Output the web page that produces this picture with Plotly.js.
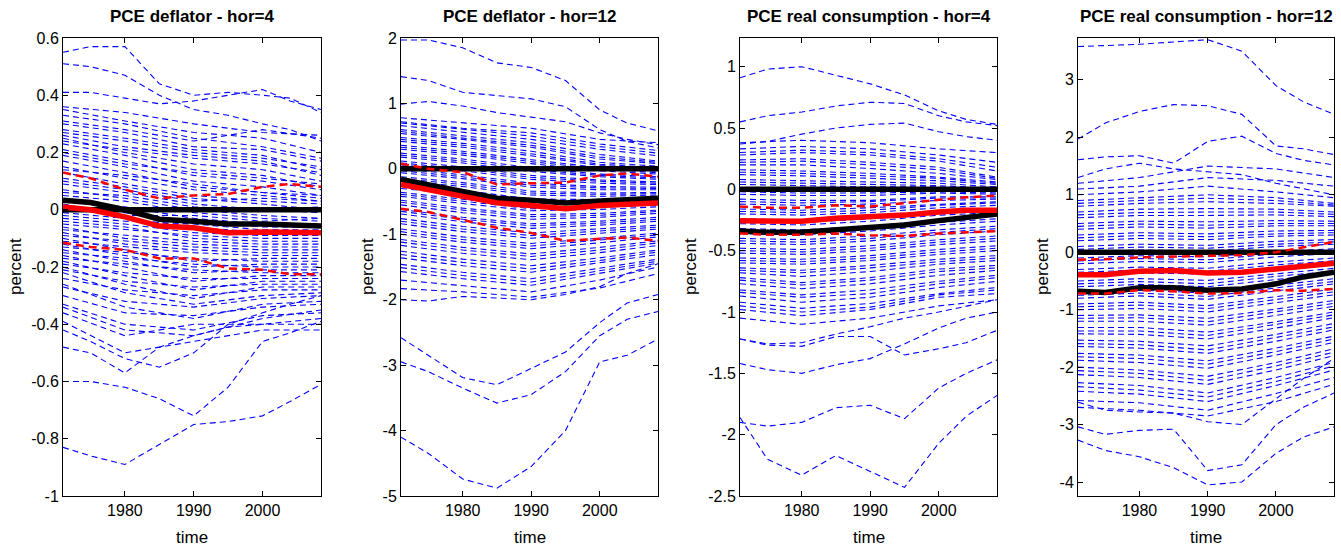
<!DOCTYPE html>
<html><head><meta charset="utf-8">
<script src="https://cdn.plot.ly/plotly-3.0.1.min.js"></script>
<style>html,body{margin:0;padding:0;background:#fff}#chart{width:1341px;height:548px}</style>
</head><body><div id="chart"></div>
<script>
// ---------- x grids (years) ----------
const YEARS_A = [1971, 1980, 1990, 2000, 2008.5];
const YEARS_B = [1971, 1975, 1980, 1985, 1990, 1995, 2000, 2004, 2008.5];
const X_TICKS = [1980, 1990, 2000];
const X_TICK_TEXT = ["1980", "1990", "2000"];

// ---------- Panel 1: PCE deflator - hor=4 ----------
const p1Title = "PCE deflator - hor=4";
const p1Band = [
 [0.36,0.34,0.30,0.27,0.26],[0.35,0.31,0.27,0.25,0.20],[0.33,0.30,0.25,0.22,0.18],[0.31,0.28,0.24,0.28,0.25],
 [0.30,0.27,0.22,0.21,0.17],[0.28,0.25,0.21,0.19,0.14],[0.26,0.22,0.19,0.17,0.12],[0.25,0.20,0.16,0.14,0.10],
 [0.23,0.19,0.14,0.12,0.08],[0.21,0.17,0.12,0.10,0.07],[0.19,0.15,0.10,0.08,0.05],[0.17,0.13,0.08,0.06,0.04],
 [0.15,0.11,0.07,0.05,0.03],[0.13,0.09,0.05,0.03,0.02],[0.11,0.08,0.04,0.02,0.00],[0.09,0.06,0.02,0.00,-0.01],
 [0.07,0.04,0.00,-0.02,-0.03],[0.05,0.03,-0.01,-0.03,-0.04],[0.03,0.01,-0.03,-0.05,-0.05],[0.01,-0.01,-0.04,-0.06,-0.06],
 [-0.01,-0.03,-0.06,-0.08,-0.08],[-0.03,-0.05,-0.08,-0.09,-0.09],[-0.05,-0.07,-0.09,-0.10,-0.10],[-0.07,-0.09,-0.11,-0.12,-0.12],
 [-0.09,-0.11,-0.13,-0.14,-0.14],[-0.11,-0.13,-0.15,-0.16,-0.16],[-0.13,-0.15,-0.17,-0.18,-0.18],[-0.15,-0.17,-0.19,-0.20,-0.20],
 [-0.17,-0.19,-0.21,-0.22,-0.22],[-0.19,-0.22,-0.24,-0.24,-0.24],[-0.21,-0.25,-0.27,-0.26,-0.26],[-0.24,-0.28,-0.30,-0.28,-0.28],
 [-0.27,-0.32,-0.34,-0.31,-0.30],[-0.30,-0.36,-0.37,-0.34,-0.33],[-0.33,-0.40,-0.42,-0.37,-0.36],[-0.36,-0.44,-0.40,-0.40,-0.40],
 [-0.39,-0.50,-0.46,-0.42,-0.42]
];
const p1Band2 = [
 [0.14,0.12,0.09,0.06,0.05],[0.10,0.07,0.03,0.04,0.03],[0.06,0.05,0.01,0.00,0.01],[0.02,-0.02,-0.02,-0.04,-0.03],
 [-0.02,-0.04,-0.05,-0.07,-0.07],[-0.04,-0.06,-0.10,-0.11,-0.11],[-0.06,-0.10,-0.12,-0.13,-0.13],[-0.08,-0.12,-0.14,-0.15,-0.15],
 [-0.10,-0.14,-0.18,-0.17,-0.17],[-0.12,-0.16,-0.20,-0.19,-0.19],[-0.14,-0.18,-0.22,-0.21,-0.21],[-0.16,-0.20,-0.25,-0.23,-0.23],
 [-0.18,-0.23,-0.28,-0.25,-0.25],[-0.20,-0.26,-0.31,-0.27,-0.27],[-0.22,-0.29,-0.33,-0.30,-0.29],[0.20,0.16,0.13,0.11,0.09],
 [0.24,0.21,0.18,0.16,0.13],[0.27,0.24,0.20,0.18,0.15],[-0.26,-0.34,-0.38,-0.33,-0.32],[-0.34,-0.42,-0.44,-0.38,-0.35]
];
const p1Outer = [
 [0.55,0.57,0.57,0.44,0.40,0.41,0.40,0.39,0.34],
 [0.51,0.50,0.47,0.40,0.35,0.33,0.30,0.28,0.24],
 [0.41,0.41,0.39,0.37,0.38,0.40,0.42,0.38,0.35],
 [-0.48,-0.50,-0.57,-0.48,-0.44,-0.41,-0.40,-0.39,-0.38],
 [-0.60,-0.60,-0.62,-0.66,-0.72,-0.62,-0.46,-0.43,-0.39],
 [-0.83,-0.86,-0.89,-0.82,-0.75,-0.74,-0.72,-0.67,-0.61],
 [-0.42,-0.46,-0.52,-0.55,-0.50,-0.40,-0.36,-0.33,-0.30]
];
const p1Est = [0.033,0.025,0.0,-0.033,-0.04,-0.05,-0.05,-0.052,-0.057];
const p1Med = [0.01,0.0,-0.025,-0.057,-0.063,-0.08,-0.078,-0.08,-0.08];
const p1Up  = [0.13,0.11,0.07,0.04,0.05,0.055,0.08,0.09,0.08];
const p1Lo  = [-0.115,-0.13,-0.14,-0.17,-0.17,-0.205,-0.21,-0.225,-0.225];
const p1YTicks = [-1,-0.8,-0.6,-0.4,-0.2,0,0.2,0.4,0.6];
const p1YText = ["-1","-0.8","-0.6","-0.4","-0.2","0","0.2","0.4","0.6"];

// ---------- Panel 2: PCE deflator - hor=12 ----------
const p2Title = "PCE deflator - hor=12";
const p2Band = [
 [0.78,0.70,0.62,0.45,0.40],[0.72,0.62,0.55,0.38,0.28],[0.66,0.56,0.45,0.30,0.20],[0.60,0.50,0.40,0.22,0.12],
 [0.54,0.45,0.33,0.15,0.08],[0.48,0.39,0.27,0.10,0.04],[0.42,0.33,0.20,0.05,0.00],[0.36,0.27,0.14,0.02,-0.04],
 [0.30,0.21,0.08,-0.03,-0.08],[0.24,0.15,0.02,-0.08,-0.12],[0.18,0.09,-0.04,-0.12,-0.16],[0.12,0.03,-0.10,-0.17,-0.20],
 [0.06,-0.03,-0.16,-0.22,-0.24],[0.00,-0.09,-0.22,-0.27,-0.28],[-0.06,-0.15,-0.28,-0.32,-0.32],[-0.12,-0.21,-0.34,-0.37,-0.36],
 [-0.18,-0.27,-0.40,-0.42,-0.40],[-0.24,-0.33,-0.46,-0.47,-0.44],[-0.30,-0.39,-0.52,-0.52,-0.48],[-0.36,-0.46,-0.58,-0.57,-0.53],
 [-0.42,-0.53,-0.64,-0.62,-0.58],[-0.48,-0.60,-0.70,-0.68,-0.63],[-0.55,-0.67,-0.77,-0.74,-0.68],[-0.62,-0.74,-0.84,-0.80,-0.74],
 [-0.69,-0.81,-0.91,-0.86,-0.80],[-0.76,-0.88,-0.98,-0.92,-0.86],[-0.84,-0.96,-1.06,-0.99,-0.92],[-0.92,-1.04,-1.14,-1.06,-0.98],
 [-1.00,-1.12,-1.22,-1.13,-1.04],[-1.08,-1.20,-1.30,-1.20,-1.10],[-1.17,-1.29,-1.39,-1.28,-1.17],[-1.26,-1.38,-1.48,-1.36,-1.24],
 [-1.36,-1.48,-1.58,-1.44,-1.31],[-1.46,-1.58,-1.68,-1.52,-1.38],[-1.57,-1.68,-1.78,-1.60,-1.44],[-1.70,-1.78,-1.88,-1.70,-1.50],
 [-1.83,-1.88,-1.96,-1.82,-1.60]
];
const p2Band2 = [
 [0.70,0.60,0.50,0.34,0.24],[0.57,0.47,0.36,0.18,0.10],[0.45,0.36,0.23,0.07,0.02],[0.33,0.24,0.11,0.00,-0.06],
 [0.21,0.12,-0.01,-0.10,-0.14],[0.09,0.00,-0.13,-0.19,-0.22],[-0.03,-0.12,-0.25,-0.29,-0.30],[-0.15,-0.24,-0.37,-0.39,-0.38],
 [-0.27,-0.36,-0.49,-0.49,-0.46],[-0.39,-0.49,-0.61,-0.59,-0.55],[-0.51,-0.63,-0.73,-0.71,-0.65],[-0.65,-0.77,-0.87,-0.83,-0.77],
 [-0.80,-0.92,-1.02,-0.95,-0.89],[-0.96,-1.08,-1.18,-1.09,-1.01],[-1.12,-1.24,-1.34,-1.24,-1.13],[-1.31,-1.43,-1.53,-1.40,-1.27],
 [-1.51,-1.63,-1.73,-1.56,-1.41]
];
const p2Outer = [
 [1.97,1.97,1.85,1.62,1.55,1.35,0.90,0.70,0.58],
 [1.41,1.35,1.17,1.12,1.07,0.95,0.60,0.42,0.32],
 [0.99,1.03,0.96,0.86,0.79,0.72,0.55,0.45,0.37],
 [-4.10,-4.35,-4.74,-4.88,-4.55,-4.00,-2.95,-2.85,-2.60],
 [-2.58,-2.85,-3.19,-3.30,-3.05,-2.80,-2.35,-2.05,-1.92],
 [-2.95,-3.10,-3.35,-3.58,-3.45,-3.10,-2.55,-2.30,-2.18],
 [-2.00,-2.02,-1.95,-1.98,-2.00,-1.92,-1.80,-1.60,-1.45]
];
const p2Est = [-0.16,-0.24,-0.35,-0.45,-0.48,-0.52,-0.49,-0.47,-0.45];
const p2Med = [-0.24,-0.32,-0.40,-0.52,-0.56,-0.61,-0.56,-0.54,-0.52];
const p2Up  = [0.08,0.0,-0.05,-0.24,-0.22,-0.21,-0.10,-0.07,-0.12];
const p2Lo  = [-0.61,-0.66,-0.78,-0.90,-0.98,-1.10,-1.07,-1.05,-1.10];
const p2YTicks = [-5,-4,-3,-2,-1,0,1,2];
const p2YText = ["-5","-4","-3","-2","-1","0","1","2"];

// ---------- Panel 3: PCE real consumption - hor=4 ----------
const p3Title = "PCE real consumption - hor=4";
const p3Band = [
 [0.38,0.40,0.38,0.33,0.30],[0.33,0.35,0.33,0.28,0.22],[0.28,0.30,0.28,0.23,0.15],[0.24,0.25,0.22,0.18,0.10],
 [0.20,0.20,0.17,0.13,0.08],[0.16,0.15,0.13,0.10,0.06],[0.12,0.11,0.09,0.07,0.04],[0.08,0.07,0.06,0.05,0.02],
 [0.04,0.03,0.02,0.02,0.00],[0.00,-0.01,-0.02,-0.01,-0.02],[-0.04,-0.05,-0.05,-0.03,-0.04],[-0.08,-0.09,-0.09,-0.06,-0.06],
 [-0.12,-0.13,-0.12,-0.09,-0.08],[-0.16,-0.17,-0.15,-0.12,-0.10],[-0.20,-0.21,-0.19,-0.15,-0.13],[-0.24,-0.25,-0.22,-0.18,-0.16],
 [-0.28,-0.29,-0.26,-0.21,-0.19],[-0.32,-0.33,-0.30,-0.25,-0.22],[-0.36,-0.37,-0.34,-0.29,-0.26],[-0.40,-0.41,-0.38,-0.33,-0.30],
 [-0.44,-0.45,-0.42,-0.37,-0.34],[-0.48,-0.49,-0.46,-0.41,-0.38],[-0.52,-0.53,-0.50,-0.45,-0.42],[-0.56,-0.57,-0.54,-0.49,-0.46],
 [-0.60,-0.61,-0.58,-0.53,-0.50],[-0.64,-0.66,-0.62,-0.57,-0.54],[-0.68,-0.71,-0.67,-0.61,-0.58],[-0.72,-0.76,-0.72,-0.65,-0.62],
 [-0.77,-0.81,-0.77,-0.70,-0.66],[-0.82,-0.86,-0.82,-0.75,-0.70],[-0.87,-0.92,-0.88,-0.80,-0.75],[-0.92,-0.97,-0.93,-0.85,-0.80],
 [-0.98,-1.03,-0.98,-0.88,-0.85],[-1.05,-1.10,-1.05,-0.95,-0.90]
];
const p3Band2 = [
 [0.22,0.23,0.20,0.16,0.09],[0.14,0.13,0.11,0.09,0.05],[0.06,0.05,0.04,0.03,0.01],[-0.02,-0.03,-0.03,-0.02,-0.03],
 [-0.10,-0.11,-0.10,-0.07,-0.07],[-0.18,-0.19,-0.17,-0.13,-0.11],[-0.26,-0.27,-0.24,-0.19,-0.17],[-0.34,-0.35,-0.32,-0.27,-0.24],
 [-0.42,-0.43,-0.40,-0.35,-0.32],[-0.50,-0.51,-0.48,-0.43,-0.40],[-0.58,-0.59,-0.56,-0.51,-0.48],[-0.66,-0.68,-0.64,-0.59,-0.56],
 [-0.74,-0.78,-0.74,-0.67,-0.64],[-0.84,-0.88,-0.85,-0.77,-0.72],[-0.95,-1.00,-0.96,-0.86,-0.82],[0.30,0.32,0.30,0.25,0.18]
];
const p3Outer = [
 [0.91,0.98,1.00,0.93,0.86,0.77,0.64,0.57,0.53],
 [0.55,0.60,0.63,0.68,0.71,0.70,0.60,0.55,0.52],
 [0.37,0.39,0.45,0.50,0.53,0.54,0.47,0.43,0.40],
 [-1.86,-2.20,-2.33,-2.17,-2.30,-2.43,-2.07,-1.85,-1.68],
 [-1.90,-1.93,-1.90,-1.78,-1.76,-1.87,-1.62,-1.50,-1.39],
 [-1.42,-1.47,-1.50,-1.43,-1.38,-1.26,-1.13,-1.05,-1.00],
 [-1.22,-1.26,-1.25,-1.18,-1.12,-1.05,-1.00,-0.95,-0.90],
 [-1.22,-1.27,-1.28,-1.20,-1.20,-1.35,-1.30,-1.25,-1.15]
];
const p3Est = [-0.34,-0.35,-0.35,-0.33,-0.31,-0.29,-0.255,-0.23,-0.20];
const p3Med = [-0.256,-0.26,-0.26,-0.235,-0.227,-0.21,-0.185,-0.17,-0.17];
const p3Up  = [-0.14,-0.15,-0.15,-0.13,-0.14,-0.11,-0.085,-0.065,-0.05];
const p3Lo  = [-0.36,-0.37,-0.37,-0.36,-0.375,-0.38,-0.36,-0.35,-0.34];
const p3YTicks = [-2.5,-2,-1.5,-1,-0.5,0,0.5,1];
const p3YText = ["-2.5","-2","-1.5","-1","-0.5","0","0.5","1"];

// ---------- Panel 4: PCE real consumption - hor=12 ----------
const p4Title = "PCE real consumption - hor=12";
const p4Band = [
 [1.20,1.30,1.50,1.45,1.30],[1.10,1.15,1.30,1.25,1.15],[1.00,1.05,1.15,1.05,0.95],[0.90,0.95,1.00,0.95,0.85],
 [0.80,0.85,0.88,0.85,0.80],[0.70,0.75,0.76,0.75,0.70],[0.60,0.64,0.64,0.65,0.62],[0.50,0.54,0.53,0.55,0.54],
 [0.40,0.44,0.42,0.46,0.46],[0.30,0.34,0.32,0.37,0.38],[0.20,0.24,0.22,0.28,0.30],[0.10,0.14,0.12,0.19,0.22],
 [0.00,0.04,0.02,0.10,0.14],[-0.10,-0.06,-0.08,0.01,0.06],[-0.20,-0.16,-0.18,-0.08,-0.02],[-0.30,-0.26,-0.28,-0.17,-0.10],
 [-0.40,-0.36,-0.38,-0.27,-0.19],[-0.50,-0.46,-0.49,-0.37,-0.28],[-0.60,-0.56,-0.60,-0.47,-0.37],[-0.70,-0.66,-0.71,-0.57,-0.46],
 [-0.80,-0.76,-0.82,-0.67,-0.55],[-0.90,-0.87,-0.93,-0.77,-0.64],[-1.00,-0.98,-1.04,-0.88,-0.74],[-1.10,-1.09,-1.15,-0.99,-0.84],
 [-1.20,-1.20,-1.27,-1.10,-0.94],[-1.31,-1.31,-1.39,-1.21,-1.04],[-1.42,-1.43,-1.51,-1.32,-1.14],[-1.53,-1.55,-1.63,-1.43,-1.24],
 [-1.64,-1.67,-1.76,-1.55,-1.35],[-1.76,-1.79,-1.89,-1.67,-1.46],[-1.88,-1.92,-2.02,-1.79,-1.57],[-2.00,-2.05,-2.16,-1.92,-1.68],
 [-2.13,-2.18,-2.30,-2.05,-1.80],[-2.27,-2.32,-2.45,-2.18,-1.92],[-2.42,-2.47,-2.60,-2.32,-2.05],[-2.58,-2.62,-2.75,-2.46,-2.18]
];
const p4Band2 = [
 [0.85,0.90,0.94,0.90,0.82],[0.65,0.69,0.70,0.70,0.66],[0.45,0.49,0.47,0.50,0.50],[0.25,0.29,0.27,0.32,0.34],
 [0.05,0.09,0.07,0.14,0.18],[-0.15,-0.11,-0.13,-0.03,0.02],[-0.35,-0.31,-0.33,-0.22,-0.15],[-0.55,-0.51,-0.55,-0.42,-0.33],
 [-0.75,-0.71,-0.77,-0.62,-0.51],[-0.95,-0.92,-0.98,-0.82,-0.69],[-1.15,-1.14,-1.21,-1.04,-0.89],[-1.37,-1.37,-1.45,-1.26,-1.09],
 [-1.59,-1.61,-1.70,-1.49,-1.30],[-1.82,-1.85,-1.95,-1.73,-1.51],[-2.06,-2.11,-2.23,-1.98,-1.74],[-2.34,-2.40,-2.52,-2.25,-1.98],
 [-2.70,-2.75,-2.85,-2.60,-2.30]
];
const p4Outer = [
 [3.58,3.60,3.62,3.66,3.70,3.50,2.90,2.62,2.40],
 [1.97,2.25,2.45,2.57,2.55,2.40,1.85,1.80,1.70],
 [1.61,1.66,1.68,1.55,1.93,2.02,1.72,1.60,1.52],
 [-3.27,-3.45,-3.56,-3.75,-4.05,-4.00,-3.50,-3.22,-3.04],
 [-3.04,-3.17,-3.10,-3.08,-3.80,-3.70,-3.00,-2.70,-2.45],
 [-2.61,-2.75,-2.78,-2.80,-2.95,-3.00,-2.55,-2.20,-1.85],
 [1.30,1.45,1.55,1.45,1.40,1.35,1.20,1.10,1.00]
];
const p4Est = [-0.68,-0.70,-0.62,-0.62,-0.66,-0.64,-0.55,-0.43,-0.35];
const p4Med = [-0.39,-0.39,-0.33,-0.32,-0.36,-0.35,-0.29,-0.24,-0.19];
const p4Up  = [-0.13,-0.12,-0.09,-0.08,-0.07,-0.05,0.0,0.09,0.18];
const p4Lo  = [-0.72,-0.72,-0.66,-0.68,-0.72,-0.71,-0.66,-0.67,-0.64];
const p4YTicks = [-4,-3,-2,-1,0,1,2,3];
const p4YText = ["-4","-3","-2","-1","0","1","2","3"];

const ZERO = [0, 0];
const ZERO_YEARS = [1971, 2008.5];

// ---------- layout geometry ----------
const W = 1341, H = 548, MT = 38, MB = 52;
const panels = [
 {title:p1Title, band:p1Band.concat(p1Band2), outer:p1Outer, est:p1Est, med:p1Med, up:p1Up, lo:p1Lo, yr:[-1,0.6], yt:p1YTicks, ytx:p1YText, px:[63,321], ylx:15},
 {title:p2Title, band:p2Band.concat(p2Band2), outer:p2Outer, est:p2Est, med:p2Med, up:p2Up, lo:p2Lo, yr:[-5,2], yt:p2YTicks, ytx:p2YText, px:[401,658], ylx:367},
 {title:p3Title, band:p3Band.concat(p3Band2), outer:p3Outer, est:p3Est, med:p3Med, up:p3Up, lo:p3Lo, yr:[-2.5,1.234], yt:p3YTicks, ytx:p3YText, px:[740,997], ylx:690},
 {title:p4Title, band:p4Band.concat(p4Band2), outer:p4Outer, est:p4Est, med:p4Med, up:p4Up, lo:p4Lo, yr:[-4.243,3.729], yt:p4YTicks, ytx:p4YText, px:[1078,1334], ylx:1042}
];

const FONT = "Liberation Sans, Arial, Helvetica, sans-serif";
const traces = [];
const layout = {
  width: W, height: H, margin:{l:0, r:0, t:MT, b:MB, pad:0},
  paper_bgcolor:'#fff', plot_bgcolor:'#fff', showlegend:false, hovermode:false,
  font:{family:FONT, size:16, color:'#000'}, annotations:[]
};
const BLUE = {color:'#0000ff', width:1.1, dash:'6px,4px'};
panels.forEach((p, i) => {
  const n = i === 0 ? '' : String(i+1);
  const xa = 'x'+n, ya = 'y'+n;
  const add = (x, y, line) => traces.push({type:'scatter', mode:'lines', x:x, y:y, xaxis:xa, yaxis:ya, line:line, hoverinfo:'skip'});
  p.band.forEach(v => add(YEARS_A, v, BLUE));
  p.outer.forEach(v => add(YEARS_B, v, BLUE));
  add(ZERO_YEARS, ZERO, {color:'#000', width:5.5});
  add(YEARS_B, p.est, {color:'#000', width:5.5});
  add(YEARS_B, p.med, {color:'#ff0000', width:5.5});
  add(YEARS_B, p.up, {color:'#ff0000', width:2.5, dash:'8px,5px'});
  add(YEARS_B, p.lo, {color:'#ff0000', width:2.5, dash:'8px,5px'});
  const dom = [p.px[0]/W, p.px[1]/W];
  layout['xaxis'+n] = {domain:dom, anchor:ya, range:[1971,2008.5], tickvals:X_TICKS, ticktext:X_TICK_TEXT,
    ticks:'inside', ticklen:5, tickcolor:'#000', mirror:'allticks', showline:true, linecolor:'#000', linewidth:1,
    showgrid:false, zeroline:false, tickfont:{size:16, family:FONT}};
  layout['yaxis'+n] = {domain:[0,1], anchor:xa, range:p.yr, tickvals:p.yt, ticktext:p.ytx,
    ticks:'inside', ticklen:5, tickcolor:'#000', mirror:'allticks', showline:true, linecolor:'#000', linewidth:1,
    showgrid:false, zeroline:false, tickfont:{size:16, family:FONT}};
  const cx = (dom[0]+dom[1])/2;
  const ph = H - MT - MB;
  layout.annotations.push({text:'<b>'+p.title+'</b>', xref:'paper', yref:'paper', x:cx, y:(H-MB-16)/ph, xanchor:'center', yanchor:'middle', showarrow:false, font:{size:17, family:FONT}});
  layout.annotations.push({text:'time', xref:'paper', yref:'paper', x:cx, y:(H-MB-537)/ph, xanchor:'center', yanchor:'middle', showarrow:false, font:{size:17, family:FONT}});
  layout.annotations.push({text:'percent', xref:'paper', yref:'paper', x:p.ylx/W, y:0.5, xanchor:'center', yanchor:'middle', textangle:-90, showarrow:false, font:{size:17, family:FONT}});
});
Plotly.newPlot('chart', traces, layout, {staticPlot:true, displayModeBar:false});
</script></body></html>
